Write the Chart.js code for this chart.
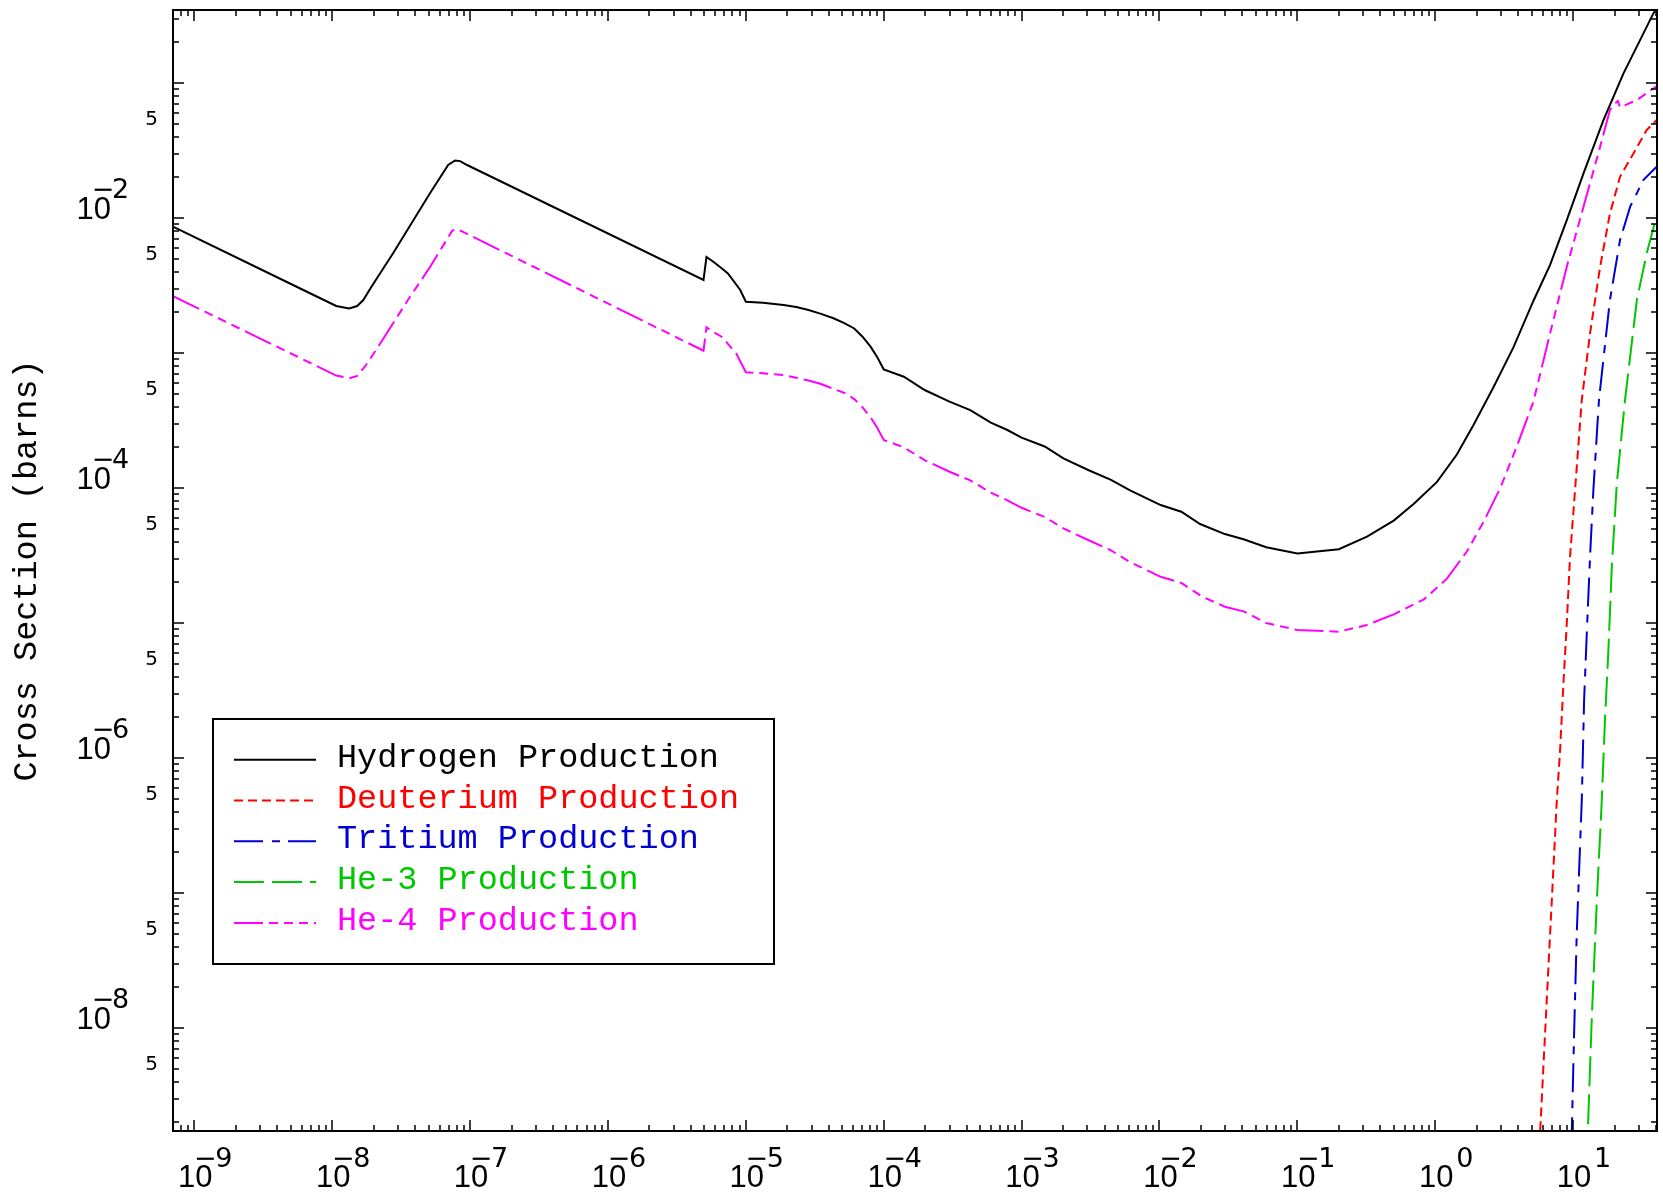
<!DOCTYPE html>
<html>
<head>
<meta charset="utf-8">
<script src="https://cdn.jsdelivr.net/npm/chart.js@4/dist/chart.umd.min.js"></script>
<style>
  html, body { margin: 0; padding: 0; background: #ffffff; }
  #wrap { width: 1663px; height: 1196px; position: relative; }
</style>
</head>
<body>
<div id="wrap"><canvas id="c" width="1663" height="1196"></canvas></div>
<script>
// ---------------- data (energy, cross section in barns) ----------------
const hydrogenE = [7e-10, 5.96e-9, 1.069e-8, 1.327e-8, 1.517e-8, 1.68e-8, 1.92e-8, 2.77e-8, 5.13e-8, 6.93e-8, 7.78e-8, 8.47e-8, 9.51e-8,
  4.93e-6, 5.18e-6, 5.81e-6, 6.67e-6, 7.41e-6, 8.21e-6, 9.10e-6, 1.0e-5,
  1.33e-5, 1.88e-5, 2.32e-5, 2.85e-5, 3.51e-5, 4.32e-5, 5.13e-5, 6.11e-5, 7.02e-5, 8.05e-5, 8.93e-5, 1.0e-4,
  1.40e-4, 1.98e-4, 3.0e-4, 4.24e-4, 5.98e-4, 7.89e-4, 1.0e-3, 1.47e-3, 2.01e-3, 3.04e-3, 4.45e-3, 6.07e-3,
  1.02e-2, 1.44e-2, 1.97e-2, 2.98e-2, 4.07e-2, 5.95e-2, 0.1, 0.2, 0.32, 0.5, 0.7, 1.03, 1.435, 1.895, 2.645,
  3.69, 5.15, 6.81, 9.0, 11.9, 16.6, 23.2, 30.6, 38.2, 42.6];
const hydrogenXS = [8.65e-3, 2.98e-3, 2.23e-3, 2.14e-3, 2.23e-3, 2.47e-3, 3.08e-3, 5.51e-3, 1.53e-2, 2.47e-2, 2.67e-2, 2.64e-2, 2.47e-2,
  3.48e-3, 5.14e-3, 4.74e-3, 4.24e-3, 3.89e-3, 3.38e-3, 2.93e-3, 2.40e-3,
  2.36e-3, 2.27e-3, 2.19e-3, 2.08e-3, 1.95e-3, 1.81e-3, 1.67e-3, 1.52e-3, 1.32e-3, 1.11e-3, 9.40e-4, 7.57e-4,
  6.67e-4, 5.32e-4, 4.36e-4, 3.78e-4, 3.05e-4, 2.69e-4, 2.36e-4, 2.03e-4, 1.66e-4, 1.36e-4, 1.15e-4, 9.66e-5,
  7.48e-5, 6.67e-5, 5.41e-5, 4.56e-5, 4.17e-5, 3.64e-5, 3.28e-5, 3.52e-5, 4.36e-5, 5.74e-5, 7.64e-5, 1.11e-4, 1.77e-4, 2.93e-4, 5.58e-4,
  1.10e-3, 2.43e-3, 4.49e-3, 9.66e-3, 2.14e-2, 5.32e-2, 0.118, 0.208, 0.328, 0.39];

const deuteriumE = [5.44, 5.77, 6.44, 7.01, 7.62, 8.05, 8.51, 9.0, 9.5, 10.33, 11.56, 13.27, 15.7, 18.5, 21.9, 27.4, 34.2, 40.5, 43];
const deuteriumXS = [5.3e-10, 1.73e-9, 1.61e-8, 8.87e-8, 4.89e-7, 1.15e-6, 3.57e-6, 9.95e-6, 3.10e-5, 9.66e-5, 4.49e-4, 1.40e-3, 4.35e-3, 1.08e-2, 2.02e-2, 3.01e-2, 4.49e-2, 5.32e-2, 5.6e-2];

const tritiumE = [9.50, 9.79, 10.17, 10.63, 11.56, 12.02, 12.57, 13.27, 14.03, 15.4, 18.5, 21.9, 25.9, 32.3, 41.5];
const tritiumXS = [5.3e-10, 1.73e-9, 9.15e-9, 5.02e-8, 4.89e-7, 2.69e-6, 8.39e-6, 3.10e-5, 9.66e-5, 4.49e-4, 2.47e-3, 6.87e-3, 1.21e-2, 1.91e-2, 2.47e-2];

const he3E = [12.27, 12.79, 13.67, 14.87, 16.15, 17.07, 18.03, 19.09, 20.75, 23.8, 29.0, 34.2, 41.5];
const he3XS = [5.3e-10, 1.73e-9, 1.21e-8, 8.87e-8, 4.89e-7, 2.02e-6, 6.31e-6, 2.61e-5, 1.08e-4, 4.49e-4, 2.47e-3, 5.48e-3, 1.15e-2];

const he4E = [7e-10, 5.96e-9, 1.069e-8, 1.327e-8, 1.517e-8, 1.76e-8, 2.15e-8, 3.54e-8, 5.13e-8, 7.41e-8, 7.93e-8, 8.61e-8,
  4.93e-6, 5.18e-6, 5.81e-6, 6.67e-6, 7.41e-6, 8.5e-6, 9.10e-6, 1.0e-5,
  1.33e-5, 1.88e-5, 2.32e-5, 2.85e-5, 3.51e-5, 4.32e-5, 5.31e-5, 6.11e-5, 7.02e-5, 8.05e-5, 8.93e-5, 1.0e-4,
  1.40e-4, 1.98e-4, 3.0e-4, 4.24e-4, 5.98e-4, 7.89e-4, 1.0e-3, 1.47e-3, 2.01e-3, 3.04e-3, 4.45e-3, 6.07e-3,
  1.02e-2, 1.44e-2, 2.04e-2, 2.98e-2, 4.07e-2, 5.95e-2, 0.1, 0.2, 0.32, 0.5, 0.822, 1.216, 1.70, 2.24, 2.96, 3.91,
  5.15, 6.81, 9.0, 11.9, 15.7, 18.5, 19.6, 21.1, 21.9, 29.0, 40.5, 43];
const he4XS = [2.64e-3, 9.10e-4, 6.81e-4, 6.50e-4, 6.76e-4, 8.15e-4, 1.11e-3, 2.47e-3, 4.35e-3, 8.05e-3, 8.30e-3, 8.02e-3,
  1.04e-3, 1.55e-3, 1.43e-3, 1.32e-3, 1.17e-3, 9.95e-4, 8.7e-4, 7.20e-4,
  7.08e-4, 6.87e-4, 6.57e-4, 6.25e-4, 5.90e-4, 5.43e-4, 5.02e-4, 4.56e-4, 3.96e-4, 3.33e-4, 2.82e-4, 2.27e-4,
  2.0e-4, 1.61e-4, 1.32e-4, 1.14e-4, 9.23e-5, 8.1e-5, 7.14e-5, 6.1e-5, 5.02e-5, 4.12e-5, 3.45e-5, 2.84e-5,
  2.20e-5, 1.98e-5, 1.57e-5, 1.32e-5, 1.22e-5, 1.00e-5, 8.87e-6, 8.63e-6, 9.66e-6, 1.16e-5, 1.49e-5, 2.13e-5, 3.40e-5, 5.61e-5, 9.97e-5, 2.04e-4,
  4.35e-4, 1.40e-3, 4.35e-3, 1.21e-2, 3.37e-2, 6.31e-2, 6.87e-2, 7.36e-2, 6.61e-2, 7.48e-2, 9.5e-2, 9.8e-2];

const seriesLabels = ['Hydrogen Production', 'Deuterium Production', 'Tritium Production', 'He-3 Production', 'He-4 Production'];

// ---------------- axis tick labels ----------------
const xTickExponents = [-9, -8, -7, -6, -5, -4, -3, -2, -1, 0, 1];
const yTickExponents = [-2, -4, -6, -8];
const yFiveLabelExponents = [-2, -3, -4, -5, -6, -7, -8, -9];
const yFiveLabelText = '5';
const tickMantissas = [1, 2, 3, 4, 5, 6, 7, 8, 9];
const yAxisTitle = 'Cross Section (barns)';

// ---------------- build datasets ----------------
const toPoints = (xs, ys) => xs.map((v, i) => ({ x: v, y: ys[i] }));

const seriesStyles = [
  { color: '#000000', dash: [] },
  { color: '#ff0000', dash: [9, 5] },
  { color: '#0000d0', dash: [29, 9, 8, 8] },
  { color: '#00c800', dash: [30, 8] },
  { color: '#ff00ff', dash: [29, 6, 9, 6, 9, 6, 9, 6] }
];
const seriesData = [
  toPoints(hydrogenE, hydrogenXS),
  toPoints(deuteriumE, deuteriumXS),
  toPoints(tritiumE, tritiumXS),
  toPoints(he3E, he3XS),
  toPoints(he4E, he4XS)
];

const datasets = seriesData.map((d, i) => ({
  label: seriesLabels[i],
  data: d,
  borderColor: seriesStyles[i].color,
  backgroundColor: seriesStyles[i].color,
  borderDash: seriesStyles[i].dash,
  borderWidth: 2,
  pointRadius: 0,
  pointHoverRadius: 0,
  tension: 0,
  fill: false,
  clip: 0
}));

// ---------------- IDL-style frame, ticks, labels & legend ----------------
const idlDecor = {
  id: 'idlDecor',
  afterDatasetsDraw(chart) {
    const { ctx, chartArea: ca } = chart;
    const xs = chart.scales.x, ys = chart.scales.y;
    ctx.save();
    ctx.strokeStyle = '#000';
    ctx.setLineDash([]);

    // frame
    ctx.lineWidth = 2;
    ctx.strokeRect(ca.left, ca.top, ca.right - ca.left, ca.bottom - ca.top);

    // ticks
    ctx.lineWidth = 1.5;
    ctx.beginPath();
    for (let e = -10; e <= 2; e++) {
      for (const m of tickMantissas) {
        const v = m * Math.pow(10, e);
        const len = m === 1 ? 11 : 6;
        if (v >= xs.min && v <= xs.max) {
          const px = Math.round(xs.getPixelForValue(v));
          ctx.moveTo(px, ca.bottom); ctx.lineTo(px, ca.bottom - len);
          ctx.moveTo(px, ca.top); ctx.lineTo(px, ca.top + len);
        }
        if (v >= ys.min && v <= ys.max) {
          const py = Math.round(ys.getPixelForValue(v));
          ctx.moveTo(ca.left, py); ctx.lineTo(ca.left + len, py);
          ctx.moveTo(ca.right, py); ctx.lineTo(ca.right - len, py);
        }
      }
    }
    ctx.stroke();

    // x tick labels: 10 with raised exponent
    ctx.fillStyle = '#000';
    ctx.textBaseline = 'alphabetic';
    for (const e of xTickExponents) {
      const px = xs.getPixelForValue(Math.pow(10, e));
      ctx.font = '31px "Liberation Sans"';
      ctx.textAlign = 'center';
      ctx.fillText('10', px + 1, ca.bottom + 56);
      ctx.font = '27px "DejaVu Sans"';
      if (e < 0) {
        ctx.textAlign = 'center';
        ctx.fillText('\u2212', px + 11, ca.bottom + 36);
      }
      ctx.textAlign = 'left';
      ctx.fillText(String(Math.abs(e)), px + 21, ca.bottom + 36);
    }

    // y tick labels
    for (const e of yTickExponents) {
      const py = ys.getPixelForValue(Math.pow(10, e));
      ctx.font = '31px "Liberation Sans"';
      ctx.textAlign = 'right';
      ctx.fillText('10', 111, py + 1);
      ctx.font = '27px "DejaVu Sans"';
      if (e < 0) {
        ctx.textAlign = 'center';
        ctx.fillText('\u2212', 103, py - 20);
      }
      ctx.textAlign = 'left';
      ctx.fillText(String(Math.abs(e)), 112, py - 20);
    }
    ctx.font = '20px "DejaVu Sans"';
    ctx.textAlign = 'right';
    for (const e of yFiveLabelExponents) {
      const v = 5 * Math.pow(10, e);
      if (v < ys.min || v > ys.max) continue;
      const py = ys.getPixelForValue(v);
      ctx.fillText(yFiveLabelText, 158, py + 1);
    }

    // legend box
    const bx = ca.left + 40, by = ca.top + 709, bw = 561, bh = 245;
    ctx.lineWidth = 2;
    ctx.strokeStyle = '#000';
    ctx.strokeRect(bx, by, bw, bh);
    ctx.font = '33.5px "Liberation Mono"';
    ctx.textAlign = 'left';
    chart.data.datasets.forEach((ds, i) => {
      const base = by + 47.7 + i * 40.8;
      ctx.strokeStyle = ds.borderColor;
      ctx.lineWidth = 2;
      ctx.setLineDash(ds.borderDash || []);
      ctx.beginPath();
      ctx.moveTo(bx + 21, base - 7);
      ctx.lineTo(bx + 103, base - 7);
      ctx.stroke();
      ctx.setLineDash([]);
      ctx.fillStyle = ds.borderColor;
      ctx.fillText(ds.label, bx + 124, base);
    });
    ctx.restore();
  }
};

new Chart(document.getElementById('c'), {
  type: 'line',
  data: { datasets },
  options: {
    responsive: false,
    maintainAspectRatio: false,
    animation: false,
    devicePixelRatio: 1,
    layout: { padding: { left: 0, top: 10, right: 6, bottom: 0 } },
    plugins: {
      legend: { display: false },
      tooltip: { enabled: false }
    },
    scales: {
      x: {
        type: 'logarithmic',
        min: 7.15e-10,
        max: 40.6,
        ticks: { display: false },
        grid: { display: false },
        border: { display: false },
        afterFit(scale) { scale.height = 65; }
      },
      y: {
        type: 'logarithmic',
        position: 'left',
        min: 1.726e-9,
        max: 0.3475,
        ticks: { display: false },
        grid: { display: false },
        border: { display: false },
        title: {
          display: true,
          text: yAxisTitle,
          color: '#000',
          font: { family: 'Liberation Mono', size: 33.5, lineHeight: 1.2 },
          padding: { top: 7, bottom: 0 }
        },
        afterFit(scale) { scale.width = 173; }
      }
    }
  },
  plugins: [idlDecor]
});
</script>
</body>
</html>
